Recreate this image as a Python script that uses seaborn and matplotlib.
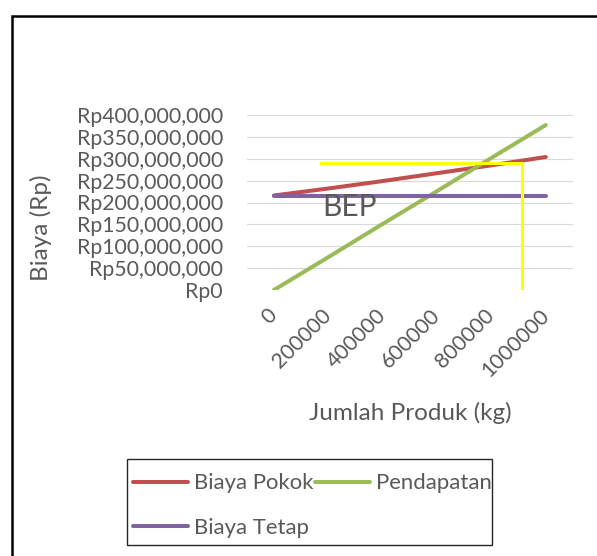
import seaborn as sns
import matplotlib.pyplot as plt
import matplotlib.patches as patches
import pandas as pd
from matplotlib.ticker import FuncFormatter

# data (in Rp)
jumlah_produk = [0, 200000, 400000, 600000, 800000, 1000000]
biaya_pokok = [216e6, 232e6, 249e6, 267e6, 285e6, 304e6]
pendapatan = [0, 75e6, 151e6, 226e6, 302e6, 377e6]
biaya_tetap = [216e6, 216e6, 216e6, 216e6, 216e6, 216e6]
# BEP guide lines (yellow)
bep_x = [166000, 914000, 914000]
bep_y = [290e6, 290e6, 0]

sns.set_theme(style="white")
plt.rcParams["font.family"] = ["Lato", "DejaVu Sans"]
grey = "#595959"

df = pd.DataFrame({
    "Jumlah Produk (kg)": jumlah_produk * 3,
    "Biaya": biaya_pokok + pendapatan + biaya_tetap,
    "Seri": ["Biaya Pokok"] * 6 + ["Pendapatan"] * 6 + ["Biaya Tetap"] * 6,
})
colors = {"Biaya Pokok": "#C0504D", "Pendapatan": "#9BBB59", "Biaya Tetap": "#8064A2"}

fig = plt.figure(figsize=(5.97, 5.56), dpi=100)
ax = fig.add_axes([246.7 / 597, 1 - 290 / 556, 326.3 / 597, 175 / 556])

sns.lineplot(data=df, x="Jumlah Produk (kg)", y="Biaya", hue="Seri",
             palette=colors, linewidth=2.9, ax=ax, legend=False,
             solid_capstyle="round")
ax.plot(bep_x, bep_y, color="#FFFF00", linewidth=2.2, solid_capstyle="butt")
ax.text(179000, 190e6, "BEP", fontsize=21.5, color=grey, va="center", ha="left")

ax.set_xlim(-100000, 1100000)
ax.set_ylim(0, 400e6)
ax.set_xticks(jumlah_produk)
ax.set_xticklabels([str(v) for v in jumlah_produk])
ax.set_yticks(range(0, 400000001, 50000000))
ax.yaxis.set_major_formatter(FuncFormatter(lambda v, p: f"Rp{int(v):,}"))
ax.grid(axis="y", color="#D9D9D9", linewidth=0.8)
ax.set_axisbelow(True)
for s in ax.spines.values():
    s.set_visible(False)
ax.tick_params(axis="both", length=0, labelsize=15.3, colors=grey)
ax.tick_params(axis="y", pad=17)
ax.tick_params(axis="x", pad=16)
for lbl in ax.get_xticklabels():
    lbl.set_rotation(45)
    lbl.set_ha("right")
    lbl.set_va("center")
    lbl.set_rotation_mode("anchor")

ax.set_xlabel("Jumlah Produk (kg)", fontsize=17.5, color=grey)
ax.set_ylabel("Biaya (Rp)", fontsize=17.5, color=grey)
ax.xaxis.set_label_coords(0.5, (290 - 413) / 175)
ax.xaxis.label.set_va("center")
ax.yaxis.set_label_coords((41 - 246.7) / 326.3, (290 - 228) / 175)
ax.yaxis.label.set_va("center")

handles = [plt.Line2D([], [], color=colors[k], linewidth=2.9, solid_capstyle="round")
           for k in ["Biaya Pokok", "Biaya Tetap", "Pendapatan"]]
leg = fig.legend(handles, ["Biaya Pokok", "Biaya Tetap", "Pendapatan"], ncol=2,
                 loc="upper left", bbox_to_anchor=(129 / 597, 1 - 469 / 556),
                 fontsize=15.9, frameon=False,
                 handlelength=2.45, handletextpad=0.28, columnspacing=0.1,
                 labelspacing=1.1, borderpad=0.2, borderaxespad=0)
for t in leg.get_texts():
    t.set_color(grey)

# legend box (text overflows it on the right, like the original)
fig.patches.append(patches.Rectangle((127 / 597, 1 - 545 / 556), 365 / 597, 86 / 556,
                                     transform=fig.transFigure, fill=False,
                                     edgecolor="#262626", linewidth=1.0))

# outer border of the chart area
fig.patches.append(patches.Rectangle((11.8 / 597, -0.1), 1.2, 1.1 - 16.3 / 556,
                                     transform=fig.transFigure, fill=False,
                                     edgecolor="black", linewidth=1.8))

fig.savefig("out.png", dpi=100)
